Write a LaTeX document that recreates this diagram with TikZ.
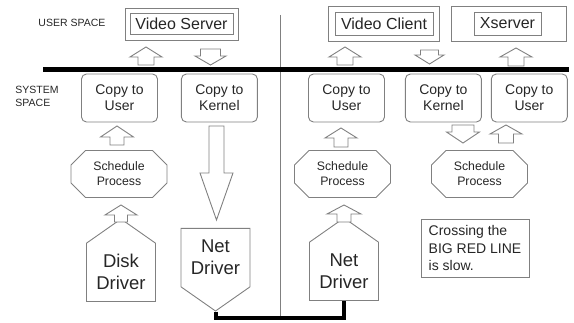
\documentclass[tikz,border=0pt]{standalone}
\usepackage{fontspec}
\setmainfont{Liberation Sans}
\usepackage{tikz}
\usetikzlibrary{positioning,shapes.misc,shapes.symbols}

\definecolor{edgegray}{HTML}{808080}
\definecolor{inkgray}{HTML}{262626}

% block arrow: x, tail y, head base y, tip y, half shaft, half head
\newcommand{\blkarrow}[6]{%
  \draw[blockarr] ({#1-#5},#2) -- ({#1-#5},#3) -- ({#1-#6},#3) -- (#1,#4)
    -- ({#1+#6},#3) -- ({#1+#5},#3) -- ({#1+#5},#2) -- cycle;}

\begin{document}
\begin{tikzpicture} [
    x=1pt, y=-1pt,
    line width=0.9pt,
    every node/.style={text=inkgray},
    appframe/.style={rectangle, draw=edgegray},
    appbox/.style={rectangle, draw=edgegray, minimum height=21pt, inner sep=0pt, font=\fontsize{16}{18}\selectfont},
    copybox/.style={rectangle, draw=edgegray, rounded corners=5pt, minimum width=76pt, minimum height=48pt, align=center, font=\fontsize{14}{16}\selectfont},
    schedbox/.style={chamfered rectangle, chamfered rectangle xsep=11pt, draw=edgegray, minimum width=96pt, minimum height=47pt, inner sep=0pt, align=center, font=\fontsize{12.3}{15}\selectfont},
    drvhouse/.style={signal, signal from=nowhere, signal pointer angle=110, draw=edgegray, minimum width=69pt, minimum height=78pt, align=center, font=\fontsize{18.5}{22}\selectfont},
    blockarr/.style={draw=edgegray, fill=white, line join=miter},
    spacelabel/.style={inner sep=0pt, align=left, font=\fontsize{10.5}{13}\selectfont},
    notebox/.style={rectangle, draw=edgegray, align=left, inner xsep=6pt, minimum width=108pt, minimum height=58pt, font=\fontsize{14}{17.5}\selectfont}
]
\useasboundingbox (0,0) rectangle (574,323);

% the two spaces
\node[spacelabel, anchor=west] (usrlbl) at (38,23) {USER SPACE};
\node[spacelabel, anchor=west] (syslbl) at (15,96) {SYSTEM\\SPACE};

\coordinate (lineL) at (43,70);
\coordinate (lineR) at (569,70);
\coordinate (divT) at (280,15);
\coordinate (divB) at (280,318);
\draw[edgegray] (divT) -- (divB);
\draw[line width=5pt] (lineL) -- (lineR);

% user programs
\node[appframe, minimum width=113pt, minimum height=32pt] (srvF) at (181.5,24) {};
\node[appbox, minimum width=103pt] (srv) at (181.5,23.5) {Video Server};
\node[appframe, minimum width=111pt, minimum height=35pt] (cliF) at (384,24) {};
\node[appbox, minimum width=98pt, minimum height=23pt] (cli) at (384,23.5) {Video Client};
\node[appframe, minimum width=115pt, minimum height=35pt] (xsF) at (508.5,24) {};
\node[appbox, minimum width=67pt, minimum height=23pt] (xs) at (507.5,23.5) {Xserver};

% kernel copies
\node[copybox] (cpyUL) at (119.5,98) {Copy to\\User};
\node[copybox, right=23pt of cpyUL] (cpyKL) {Copy to\\Kernel};
\node[copybox] (cpyUR) at (346.5,98) {Copy to\\User};
\node[copybox, right=20pt of cpyUR] (cpyKR) {Copy to\\Kernel};
\node[copybox, right=9pt of cpyKR] (cpyUX) {Copy to\\User};

% scheduler
\node[schedbox] (schL) at (119,174) {Schedule\\Process};
\node[schedbox] (schR) at (342.5,174) {Schedule\\Process};
\node[schedbox] (schX) at (479.5,174) {Schedule\\Process};

% drivers
\node[drvhouse, signal to=north, anchor=south] (disk) at (121,302) {Disk\\Driver};
\node[drvhouse, signal to=south, anchor=north] (netL) at (215.5,228) {Net\\Driver};
\node[drvhouse, signal to=north, anchor=south] (netR) at (344,301) {Net\\Driver};

% data flow across the line
\blkarrow{146}{65}{57}{47}{8}{16}
\blkarrow{210.5}{49}{56}{65}{10}{15.5}
\blkarrow{345}{65}{57}{47}{8}{16}
\blkarrow{429.5}{50}{55}{64}{9}{14.5}
\blkarrow{516}{66}{57}{48}{8}{16}

% data flow inside the kernel
\blkarrow{117}{145}{137}{126}{7}{16.5}
\blkarrow{121}{222}{215}{205}{6.5}{16}
\blkarrow{341}{147}{138}{128}{7}{16}
\blkarrow{344}{222}{214}{205}{7}{17}
\blkarrow{463}{125}{132}{143}{11}{16.5}
\blkarrow{506}{143}{134}{125}{7.5}{16}
\blkarrow{216.5}{126}{173}{220}{7.5}{16.5}

\draw[line width=4pt] (netL.270) -- (netL.270 |- divB) -| (netR.south);

\node[notebox] (note) at (475,248) {Crossing the\\BIG RED LINE\\is slow.};

\end{tikzpicture}
\end{document}
